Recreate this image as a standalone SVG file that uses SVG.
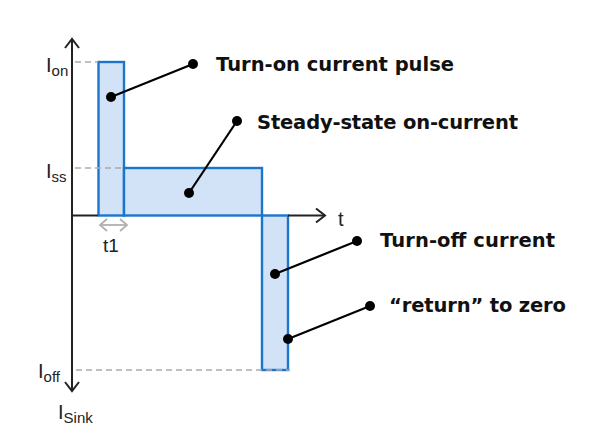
<svg xmlns="http://www.w3.org/2000/svg" width="600" height="444" viewBox="0 0 600 444">
<defs>
<style>
.bar{fill:#d2e3f8;stroke:#1a75cc;stroke-width:2.4}
.axis{stroke:#222;stroke-width:2;fill:none}
.dash{stroke:#aaaaaa;stroke-width:1.6;stroke-dasharray:6 4;fill:none}
.lead{stroke:#000;stroke-width:2.2;fill:none}
.dot{fill:#000}
.ax{font-family:"Liberation Sans",Arial,sans-serif;fill:#222}
.lbl{font-family:"DejaVu Sans",Verdana,sans-serif;font-weight:bold;font-size:19.5px;fill:#111}
</style>
<marker id="ah" markerWidth="12" markerHeight="16" refX="10" refY="8" orient="auto" markerUnits="userSpaceOnUse">
<path d="M1,1 L10,8 L1,15" fill="none" stroke="#222" stroke-width="2"/>
</marker>
<marker id="gh" markerWidth="10" markerHeight="14" refX="8" refY="7" orient="auto-start-reverse" markerUnits="userSpaceOnUse">
<path d="M1,1 L8,7 L1,13" fill="none" stroke="#b0b0b0" stroke-width="1.8"/>
</marker>
</defs>
<rect width="600" height="444" fill="#fff"/>

<g id="bars">
<rect class="bar" x="98.5" y="62" width="25.5" height="153.5"/>
<rect class="bar" x="124" y="168" width="138" height="47.5"/>
<rect class="bar" x="262" y="215.5" width="26" height="154.5"/>
</g>

<g id="guides">
<line class="dash" x1="75" y1="62" x2="98" y2="62"/>
<line class="dash" x1="75" y1="168" x2="124" y2="168"/>
<line class="dash" x1="76" y1="370" x2="290" y2="370"/>
</g>

<g id="axes">
<line class="axis" x1="72" y1="215.5" x2="98" y2="215.5"/>
<line class="axis" x1="288" y1="215.5" x2="325" y2="215.5" marker-end="url(#ah)"/>
<line class="axis" x1="72" y1="215" x2="72" y2="39" marker-end="url(#ah)"/>
<line class="axis" x1="72" y1="215" x2="72" y2="391" marker-end="url(#ah)"/>
<line x1="100" y1="225" x2="127" y2="225" stroke="#b0b0b0" stroke-width="1.8" marker-start="url(#gh)" marker-end="url(#gh)"/>
</g>

<g id="axis-labels">
<text class="ax" x="46" y="72" font-size="20">I<tspan font-size="15" dy="4">on</tspan></text>
<text class="ax" x="46" y="178" font-size="20">I<tspan font-size="15" dy="4">ss</tspan></text>
<text class="ax" x="38" y="378" font-size="20">I<tspan font-size="15" dy="4">off</tspan></text>
<text class="ax" x="58" y="419" font-size="20">I<tspan font-size="15" dy="4">Sink</tspan></text>
<text class="ax" x="338" y="226" font-size="20">t</text>
<text class="ax" x="103" y="252" font-size="19">t1</text>
</g>

<g id="connectors">
<line class="lead" x1="111" y1="97" x2="193" y2="64"/>
<line class="lead" x1="189" y1="193" x2="237" y2="121"/>
<line class="lead" x1="275" y1="274" x2="357" y2="241"/>
<line class="lead" x1="288" y1="339" x2="370" y2="306"/>
</g>

<g id="label-turn-on">
<circle class="dot" cx="111" cy="97" r="5"/>
<circle class="dot" cx="193" cy="64" r="5"/>
<text class="lbl" x="216" y="71" textLength="238">Turn-on current pulse</text>
</g>
<g id="label-steady">
<circle class="dot" cx="189" cy="193" r="5"/>
<circle class="dot" cx="237" cy="121" r="5"/>
<text class="lbl" x="257" y="129" textLength="261">Steady-state on-current</text>
</g>
<g id="label-turn-off">
<circle class="dot" cx="275" cy="274" r="5"/>
<circle class="dot" cx="357" cy="241" r="5"/>
<text class="lbl" x="380" y="247" textLength="175">Turn-off current</text>
</g>
<g id="label-return">
<circle class="dot" cx="288" cy="339" r="5"/>
<circle class="dot" cx="370" cy="306" r="5"/>
<text class="lbl" x="389" y="312" textLength="177">“return” to zero</text>
</g>
</svg>
